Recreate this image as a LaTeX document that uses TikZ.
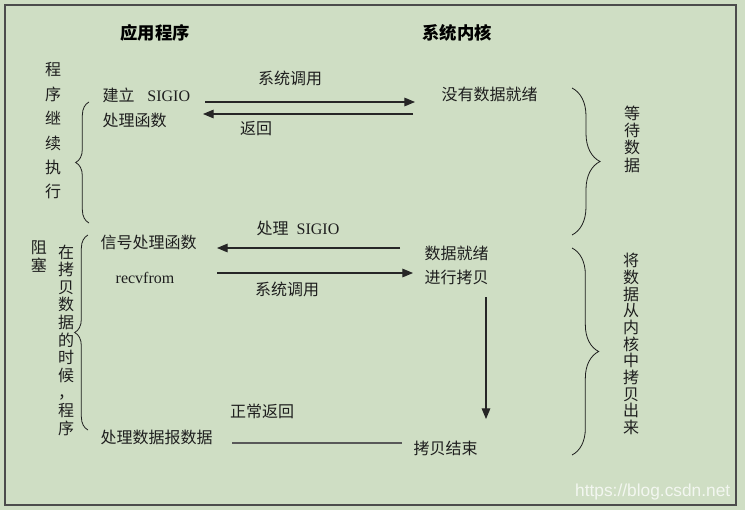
\documentclass[tikz,border=0pt]{standalone}
\usepackage{fontspec}
\setmainfont{Noto Sans CJK SC}
\newfontfamily\latinfont{Liberation Serif}
\newfontfamily\markfont{Liberation Sans}
\usepackage{xcolor}
\usetikzlibrary{arrows.meta, decorations.pathreplacing}
\definecolor{paper}{RGB}{207,222,196}
\definecolor{ink}{RGB}{30,30,30}

\begin{document}
\begin{tikzpicture}[x=0.75pt, y=-0.75pt,
    txt/.style={font=\fontsize{12}{14}\selectfont, text=ink, inner sep=1pt},
    head/.style={font=\fontsize{13}{15}\selectfont\bfseries, text=black, inner sep=1pt},
    vtext/.style={align=center, inner sep=0pt, text=ink, font=\fontsize{12}{#1}\selectfont},
    arrow/.style={-{Triangle[length=8pt,width=6.5pt]}, line width=0.8pt, draw=black!85},
    plain/.style={line width=0.9pt, draw=black!65},
    bracel/.style={decorate, decoration={brace, amplitude=#1}, line width=0.6pt, draw=ink}]

    % Background and frame
    \fill[paper] (0,0) rectangle (745,510);
    \draw[line width=1.1pt, black!70] (5,5) rectangle (736,505);

    % Headers
    \node[head] (app) at (155,33) {应用程序};
    \node[head] (kernel) at (457,33) {系统内核};

    % Application side
    \node[txt, anchor=west] (setup) at (101,95) {建立\hspace{0.8em}{\latinfont SIGIO}};
    \node[txt, anchor=west] (handler) at (101,120) {处理函数};
    \node[txt, anchor=west] (sighandler) at (99,242) {信号处理函数};
    \node[txt] (recv) at (145,278) {\latinfont recvfrom};
    \node[txt, anchor=west] (process) at (99,437) {处理数据报数据};

    % Kernel side
    \node[txt, anchor=west] (nodata) at (440,94) {没有数据就绪};
    \node[txt, anchor=west] (ready) at (423,253) {数据就绪};
    \node[txt, anchor=west] (copy) at (423,277) {进行拷贝};
    \node[txt, anchor=west] (copyend) at (412,448) {拷贝结束};

    % Arrow labels
    \node[txt] (call1) at (290,78) {系统调用};
    \node[txt] (ret) at (256,129) {返回};
    \node[txt] (sigio) at (298,228) {处理\hspace{0.5em}{\latinfont SIGIO}};
    \node[txt] (call2) at (287,289) {系统调用};
    \node[txt] (normret) at (262,411) {正常返回};

    % Side notes
    \node[vtext=18.3pt] (cont) at (53,131) {程\\序\\继\\续\\执\\行};
    \node[vtext=13.5pt] (block) at (39,257) {阻\\塞};
    \node[vtext=13.2pt] (during) at (66,340) {在\\拷\\贝\\数\\据\\的\\时\\候\\，\\程\\序};
    \node[vtext=13pt] (wait) at (632,139) {等\\待\\数\\据};
    \node[vtext=12.5pt] (copyout) at (631,344) {将\\数\\据\\从\\内\\核\\中\\拷\\贝\\出\\来};

    % Connector ends
    \coordinate (c1a) at (205,102); \coordinate (c1b) at (415,102);
    \coordinate (r1a) at (413,114); \coordinate (r1b) at (203,114);
    \coordinate (s1a) at (400,248); \coordinate (s1b) at (217,248);
    \coordinate (c2a) at (217,273); \coordinate (c2b) at (413,273);
    \coordinate (d1a) at (486,297); \coordinate (d1b) at (486,419);
    \coordinate (n1a) at (402,443); \coordinate (n1b) at (232,443);

    % Arrows
    \draw[arrow] (c1a) -- (c1b);
    \draw[arrow] (r1a) -- (r1b);
    \draw[arrow] (s1a) -- (s1b);
    \draw[arrow] (c2a) -- (c2b);
    \draw[arrow] (d1a) -- (d1b);
    \draw[plain] (n1a) -- (n1b);

    % Braces
    \draw[bracel=10pt] (89,223) -- (89,102);
    \draw[bracel=10pt] (88,430) -- (88,235);
    \draw[bracel=21pt] (572,88) -- (572,235);
    \draw[bracel=20pt] (572,248) -- (572,455);

    % Watermark
    \node[font=\markfont\fontsize{13}{15}\selectfont, text=white, opacity=0.75, anchor=east] (wm) at (735,492) {https://blog.csdn.net};
\end{tikzpicture}
\end{document}
